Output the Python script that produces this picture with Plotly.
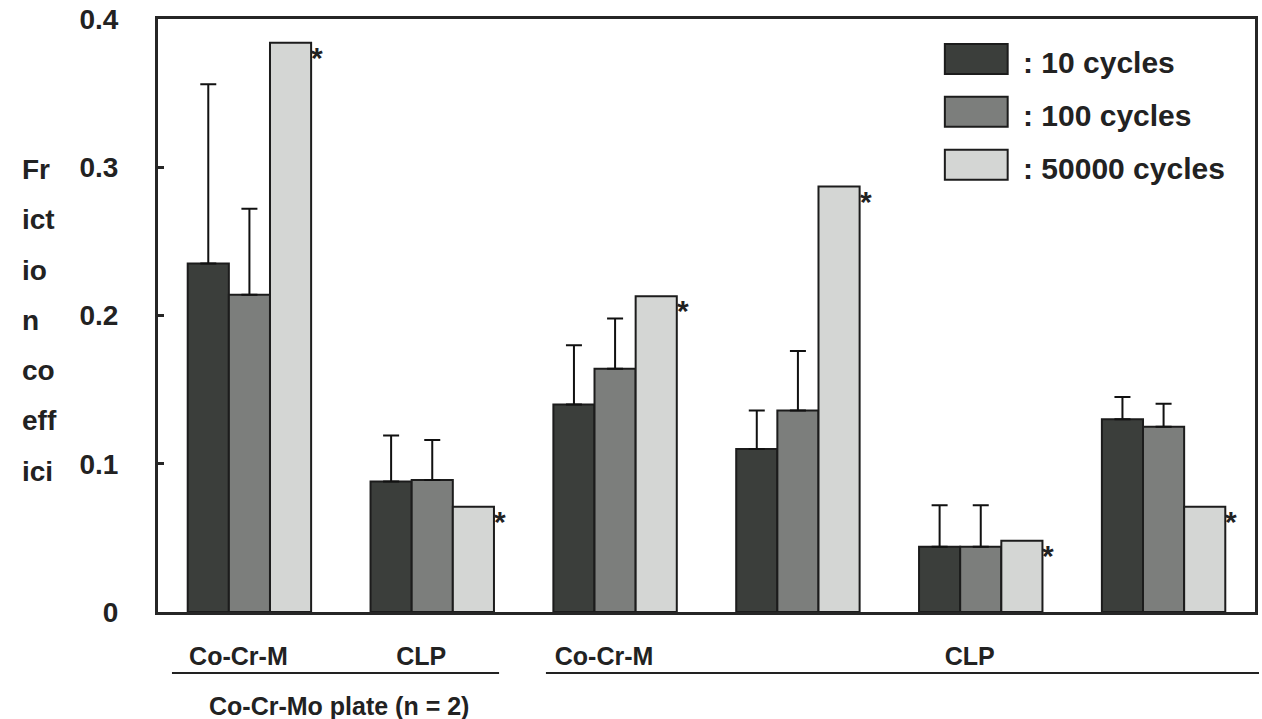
import plotly.graph_objects as go

# ---- data ----
group_index = [1, 2, 3, 4, 5, 6]
group_labels = ["Co-Cr-M", "CLP", "Co-Cr-M", "", "CLP", ""]
series_names = [": 10 cycles", ": 100 cycles", ": 50000 cycles"]

mean_10 = [0.235, 0.088, 0.140, 0.110, 0.044, 0.130]
sd_10 = [0.121, 0.031, 0.040, 0.026, 0.028, 0.015]

mean_100 = [0.214, 0.089, 0.164, 0.136, 0.044, 0.125]
sd_100 = [0.058, 0.027, 0.034, 0.040, 0.028, 0.0155]

mean_50000 = [0.384, 0.071, 0.213, 0.287, 0.048, 0.071]

y_ticks = [0, 0.1, 0.2, 0.3, 0.4]
y_tick_text = ["0", "0.1", "0.2", "0.3", "0.4"]
y_title_lines = ["Fr", "ict", "io", "n", "co", "eff", "ici"]
plate_label = "Co-Cr-Mo plate (n = 2)"

# ---- style ----
FONT = "Liberation Sans, Arial, sans-serif"
colors = ["#3b3e3b", "#7c7e7c", "#d4d6d4"]
edge = "#1c1c1c"
W, H = 1262, 719
ML, MR, MT, MB = 158, 4, 18, 107
PW, PH = W - ML - MR, H - MT - MB


def px_to_paper_x(px):
    return (px - ML) / PW


def px_to_paper_y(py):
    return 1 - (py - MT) / PH


fig = go.Figure()

err_style = dict(type="data", symmetric=False, color="#111111", thickness=2, width=8, visible=True)

fig.add_trace(go.Bar(
    x=group_index, y=mean_10, name=series_names[0],
    marker=dict(color=colors[0], line=dict(color=edge, width=2)),
    error_y=dict(array=sd_10, arrayminus=[0] * len(sd_10), **err_style),
))
fig.add_trace(go.Bar(
    x=group_index, y=mean_100, name=series_names[1],
    marker=dict(color=colors[1], line=dict(color=edge, width=2)),
    error_y=dict(array=sd_100, arrayminus=[0] * len(sd_100), **err_style),
))
fig.add_trace(go.Bar(
    x=group_index, y=mean_50000, name=series_names[2],
    marker=dict(color=colors[2], line=dict(color=edge, width=2)),
))

bargap = 0.325
bar_w = (1 - bargap) / 3

annotations = []
# asterisks next to the 50000-cycle bars
for gi, v in zip(group_index, mean_50000):
    annotations.append(dict(
        x=gi + 1.5 * bar_w, y=v, xref="x", yref="y", text="*", showarrow=False,
        xanchor="left", yanchor="top", xshift=-2, yshift=4,
        font=dict(family=FONT, size=30, color="#222222", weight="bold"),
    ))

# y-axis title, broken into lines as in the original
for i, line in enumerate(y_title_lines):
    annotations.append(dict(
        x=px_to_paper_x(20), y=px_to_paper_y(169 + 50.3 * i), xref="paper", yref="paper",
        text=line, showarrow=False, xanchor="left", yanchor="middle",
        font=dict(family=FONT, size=28, color="#222222", weight="bold"),
    ))

# bottom group label
annotations.append(dict(
    x=px_to_paper_x(339), y=px_to_paper_y(706), xref="paper", yref="paper",
    text=plate_label, showarrow=False, xanchor="center", yanchor="middle",
    font=dict(family=FONT, size=25, color="#222222", weight="bold"),
))

# legend (drawn manually with large swatches)
shapes = []
leg_rows = [58, 111, 164]
for name, col, cy in zip(series_names, colors, leg_rows):
    shapes.append(dict(
        type="rect", xref="paper", yref="paper",
        x0=px_to_paper_x(947), x1=px_to_paper_x(1010),
        y0=px_to_paper_y(cy - 15), y1=px_to_paper_y(cy + 15),
        fillcolor=col, line=dict(color=edge, width=2),
    ))
    annotations.append(dict(
        x=px_to_paper_x(1023), y=px_to_paper_y(cy + 4), xref="paper", yref="paper",
        text=name, showarrow=False, xanchor="left", yanchor="middle",
        font=dict(family=FONT, size=30, color="#222222", weight="bold"),
    ))

# group underline bars below the category labels
shapes.append(dict(type="line", xref="paper", yref="paper",
                   x0=px_to_paper_x(172), x1=px_to_paper_x(500),
                   y0=px_to_paper_y(673), y1=px_to_paper_y(673),
                   line=dict(color="#222222", width=2)))
shapes.append(dict(type="line", xref="paper", yref="paper",
                   x0=px_to_paper_x(547), x1=px_to_paper_x(1262),
                   y0=px_to_paper_y(673), y1=px_to_paper_y(673),
                   line=dict(color="#222222", width=2)))

fig.update_layout(
    width=W, height=H,
    margin=dict(l=ML, r=MR, t=MT, b=MB, pad=0),
    paper_bgcolor="white", plot_bgcolor="white",
    barmode="group", bargap=bargap, bargroupgap=0,
    showlegend=False,
    annotations=annotations, shapes=shapes,
    font=dict(family=FONT, color="#222222"),
)

fig.update_xaxes(
    range=[0.5, 6.5], tickvals=group_index, ticktext=group_labels,
    showgrid=False, zeroline=False, ticks="",
    showline=True, linecolor="#262626", linewidth=3, mirror=True,
    tickfont=dict(family=FONT, size=25, color="#222222", weight="bold"),
    ticklabelstandoff=20, ticklabelshift=-11,
)
fig.update_yaxes(
    range=[0, 0.4], tickvals=y_ticks, ticktext=y_tick_text,
    showgrid=False, zeroline=False,
    ticks="inside", ticklen=6, tickwidth=3, tickcolor="#262626",
    showline=True, linecolor="#262626", linewidth=3, mirror=True,
    tickfont=dict(family=FONT, size=28, color="#222222", weight="bold"),
    ticklabelstandoff=31,
)

fig.write_html("out.html", config={"displayModeBar": False})

# remove the default page margin so the figure sits at the window's top-left
with open("out.html", "r", encoding="utf-8") as f:
    html = f.read()
html = html.replace("<head>", "<head><style>html,body{margin:0;padding:0;overflow:hidden;}</style>", 1)
with open("out.html", "w", encoding="utf-8") as f:
    f.write(html)
